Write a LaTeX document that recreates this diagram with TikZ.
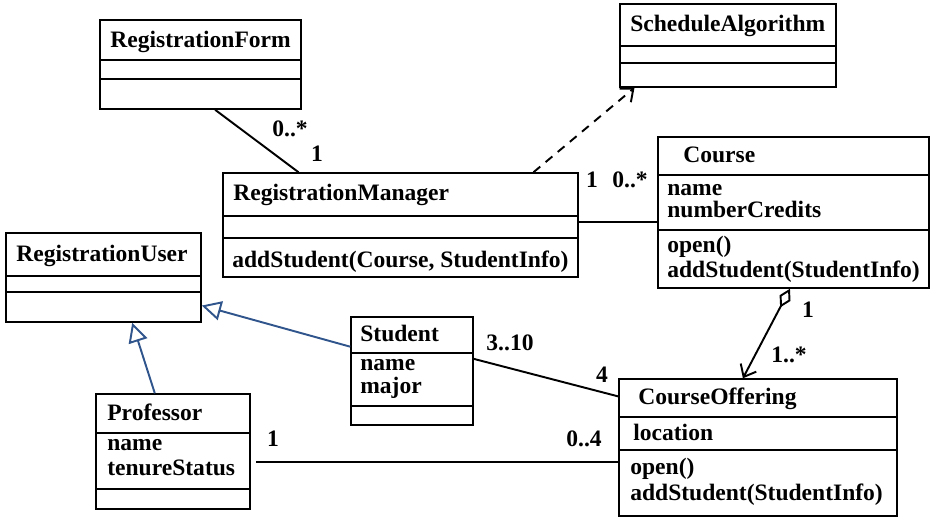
\documentclass[tikz,border=0pt]{standalone}
\usepackage{fontspec}
\setmainfont{Liberation Serif}
\usetikzlibrary{arrows.meta,fit,calc}

\definecolor{genblue}{RGB}{47,85,140}

\begin{document}
\begin{tikzpicture}[x=0.02cm, y=-0.02cm,
        every node/.style={font=\fontsize{13.4}{15}\selectfont\bfseries},
        cls/.style={draw, line width=0.85pt, inner sep=0pt},
        sep/.style={line width=0.85pt},
        txt/.style={anchor=base west, inner sep=0pt},
        mult/.style={anchor=base, inner sep=0pt},
        assoc/.style={line width=1.1pt},
        dep/.style={-{Straight Barb[length=6pt,width=10pt]}, dash pattern=on 5pt off 4pt, line width=1.1pt},
        agg/.style={{Diamond[open,length=12pt,width=7pt]}-{Straight Barb[length=6pt,width=10pt]}, line width=1.1pt},
        gen/.style={-{Triangle[open,length=11pt,width=11pt]}, genblue, line width=1.1pt}]
        \useasboundingbox (0,0) rectangle (934,522);
        % Class boxes
        \node[cls, fit={(100,20) (301,109)}]  (form)     {};
        \node[cls, fit={(620,4) (836,87)}]    (sched)    {};
        \node[cls, fit={(658,137) (929,288)}] (course)   {};
        \node[cls, fit={(223,173) (578,277)}] (manager)  {};
        \node[cls, fit={(6,233) (201,322)}]   (user)     {};
        \node[cls, fit={(96,394) (250,509)}]  (prof)     {};
        \node[cls, fit={(351,317) (473,425)}] (student)  {};
        \node[cls, fit={(619,379) (897,516)}] (offering) {};
        % Compartments
        \draw[sep] (form.west |- 0,60) -- (form.east |- 0,60);
        \draw[sep] (form.west |- 0,79) -- (form.east |- 0,79);
        \draw[sep] (sched.west |- 0,46) -- (sched.east |- 0,46);
        \draw[sep] (sched.west |- 0,63) -- (sched.east |- 0,63);
        \draw[sep] (course.west |- 0,175) -- (course.east |- 0,175);
        \draw[sep] (course.west |- 0,230) -- (course.east |- 0,230);
        \draw[sep] (manager.west |- 0,216) -- (manager.east |- 0,216);
        \draw[sep] (manager.west |- 0,238) -- (manager.east |- 0,238);
        \draw[sep] (user.west |- 0,276) -- (user.east |- 0,276);
        \draw[sep] (user.west |- 0,292) -- (user.east |- 0,292);
        \draw[sep] (prof.west |- 0,433) -- (prof.east |- 0,433);
        \draw[sep] (prof.west |- 0,489) -- (prof.east |- 0,489);
        \draw[sep] (student.west |- 0,353) -- (student.east |- 0,353);
        \draw[sep] (student.west |- 0,406) -- (student.east |- 0,406);
        \draw[sep] (offering.west |- 0,417) -- (offering.east |- 0,417);
        \draw[sep] (offering.west |- 0,450) -- (offering.east |- 0,450);
        % Class texts
        \node[txt] (formT)     at (110,47)  {RegistrationForm};
        \node[txt] (schedT)    at (630,31)  {ScheduleAlgorithm};
        \node[txt] (courseT)   at (683,162) {Course};
        \node[txt] (courseA1)  at (667,195) {name};
        \node[txt] (courseA2)  at (667,217) {numberCredits};
        \node[txt] (courseO1)  at (667,252) {open()};
        \node[txt] (courseO2)  at (667,277) {addStudent(StudentInfo)};
        \node[txt] (managerT)  at (233,200) {RegistrationManager};
        \node[txt] (managerO1) at (232,267) {addStudent(Course, StudentInfo)};
        \node[txt] (userT)     at (16,261)  {RegistrationUser};
        \node[txt] (profT)     at (107,420) {Professor};
        \node[txt] (profA1)    at (107,450) {name};
        \node[txt] (profA2)    at (107,475) {tenureStatus};
        \node[txt] (studentT)  at (360,341) {Student};
        \node[txt] (studentA1) at (360,370) {name};
        \node[txt] (studentA2) at (360,393) {major};
        \node[txt] (offerT)    at (638,404) {CourseOffering};
        \node[txt] (offerA1)   at (633,440) {location};
        \node[txt] (offerO1)   at (630,474) {open()};
        \node[txt] (offerO2)   at (630,500) {addStudent(StudentInfo)};
        % Connectors
        \draw[assoc] ($(form.south west)!0.572!(form.south east)$) -- ($(manager.north west)!0.214!(manager.north east)$);
        \draw[dep] ($(manager.north west)!0.873!(manager.north east)$) -- ($(sched.south west)!0.07!(sched.south east)$);
        \coordinate (mgrR) at ($(manager.north east)!0.47!(manager.south east)$);
        \draw[assoc] (mgrR) -- (mgrR -| course.west);
        \draw[agg] ($(course.south west)!0.487!(course.south east)$) -- ($(offering.north west)!0.446!(offering.north east)$);
        \draw[assoc] ($(student.north east)!0.389!(student.south east)$) -- ($(offering.north west)!0.131!(offering.south west)$);
        \coordinate (profR) at ($(prof.north east)!0.59!(prof.south east)$);
        \draw[assoc, shorten <=3pt] (profR) -- (profR -| offering.west);
        \draw[gen] ($(student.north west)!0.278!(student.south west)$) -- ($(user.north east)!0.81!(user.south east)$);
        \draw[gen] ($(prof.north west)!0.383!(prof.north east)$) -- ($(user.south west)!0.646!(user.south east)$);
        % Multiplicities
        \node[mult] (m1)  at (290,136) {0..*};
        \node[mult] (m2)  at (317,161) {1};
        \node[mult] (m3)  at (592,187) {1};
        \node[mult] (m4)  at (630,187) {0..*};
        \node[mult] (m5)  at (808,317) {1};
        \node[mult] (m6)  at (789,362) {1..*};
        \node[mult] (m7)  at (510,350) {3..10};
        \node[mult] (m8)  at (602,382) {4};
        \node[mult] (m9)  at (584,446) {0..4};
        \node[mult] (m10) at (273,446) {1};
\end{tikzpicture}
\end{document}
